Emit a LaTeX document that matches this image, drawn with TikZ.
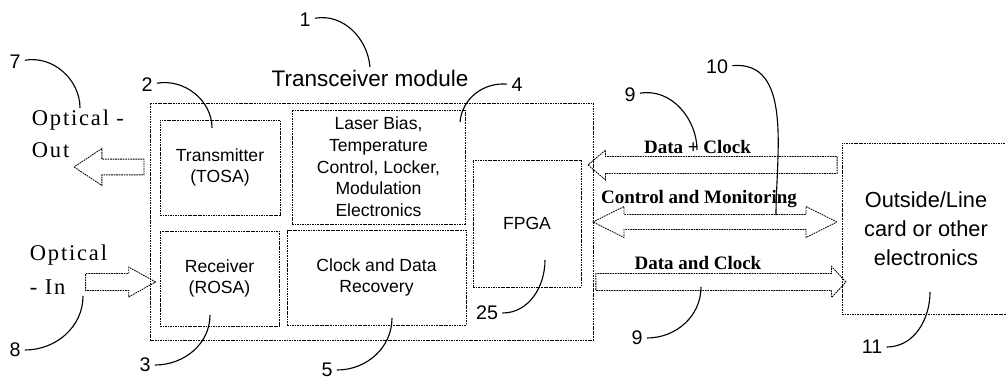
\documentclass[tikz,border=0pt]{standalone}
\usepackage{fontspec}
\setmainfont{Liberation Serif}
\setsansfont{Liberation Sans}
\newfontfamily\widerm[LetterSpace=8]{Liberation Serif}
\usetikzlibrary{shapes.arrows}

\tikzset{
  dots/.style={dash pattern=on 1.2pt off 0.6pt, line width=0.6pt},
  unit/.style={draw, dots, inner sep=0pt, align=center,
    font=\sffamily\fontsize{12.5}{15.4}\selectfont},
  num/.style={font=\sffamily\fontsize{14}{16}\selectfont, inner sep=3pt},
  lead/.style={line width=0.8pt},
  bus/.style={font=\bfseries\fontsize{13.5}{15}\selectfont},
  fat/.style={single arrow, draw, dots, inner xsep=0pt, minimum width=0pt},
  fat2/.style={double arrow, draw, dots, inner xsep=0pt, minimum width=0pt},
}

\begin{document}
\begin{tikzpicture}[x=0.025cm, y=-0.025cm]
    \useasboundingbox (0,0) rectangle (1006,381);
    % transceiver module
    \node[unit, minimum width=11.075cm, minimum height=5.925cm] (mod) at (371.5,221.5) {};
    \node[font=\sffamily\fontsize{16}{18}\selectfont] (tit) at (370,78) {Transceiver module};
    \node[unit, minimum width=3cm,     minimum height=2.375cm] (tosa) at (220,167.5)   {Transmitter\\(TOSA)};
    \node[unit, minimum width=4.325cm, minimum height=2.85cm]  (bias) at (378.5,167)   {Laser Bias,\\Temperature\\Control, Locker,\\Modulation\\Electronics};
    \node[unit, minimum width=2.975cm, minimum height=2.375cm] (rosa) at (219.5,278.5) {Receiver\\(ROSA)};
    \node[unit, minimum width=4.475cm, minimum height=2.375cm] (cdr)  at (376.5,277.5) {Clock and Data\\Recovery};
    \node[unit, minimum width=2.7cm,   minimum height=3.175cm] (fpga) at (527,223.5)   {FPGA};
    \node[unit, minimum width=4.2cm,   minimum height=4.275cm,
          font=\sffamily\fontsize{15.5}{20.5}\selectfont]      (line) at (926,228.5)   {Outside/Line\\card or other\\electronics};

    % optical side
    \node[fat, minimum height=1.75cm, inner ysep=5.3pt, single arrow head extend=7.5pt,
          single arrow tip angle=67, shape border rotate=180] (oa) at (115,167) {};
    \node[fat, minimum height=1.75cm, inner ysep=5.7pt, single arrow head extend=4.6pt,
          single arrow tip angle=58] (ia) at (113,282) {};
    \node[font=\widerm\fontsize{16}{22.7}\selectfont, align=left, anchor=west] (oout) at (27,134) {Optical -\\Out};
    \node[font=\widerm\fontsize{16}{24}\selectfont,   align=left, anchor=west] (oin)  at (25,270) {Optical\\- In};

    % electrical side
    \node[fat, minimum height=6.225cm, inner ysep=5.7pt, single arrow head extend=4.6pt,
          single arrow tip angle=81, shape border rotate=180] (dca) at (717.5,165) {};
    \node[fat2, minimum height=6.1cm, inner ysep=5pt, double arrow head extend=5.7pt,
          double arrow tip angle=53] (cma) at (715,222) {};
    \node[fat, minimum height=6.25cm, inner ysep=5.7pt, single arrow head extend=5pt,
          single arrow tip angle=94] (dcb) at (717,282) {};
    \node[bus] (dcl) at ([shift={(-20,-18)}] dca) {Data + Clock};
    \node[bus] (cml) at ([shift={(-16,-23)}] cma) {Control and Monitoring};
    \node[bus] (dbl) at ([shift={(-19,-19)}] dcb) {Data and Clock};

    % reference numerals
    \node[num] (n1)  at (305,20)  {1};
    \node[num] (n2)  at (147,85)  {2};
    \node[num] (n7)  at (15,62)   {7};
    \node[num] (n4)  at (517,85)  {4};
    \node[num] (n9a) at (630,95)  {9};
    \node[num] (n10) at (717,67)  {10};
    \node[num] (n9b) at (637,338) {9};
    \node[num] (n11) at (872,347) {11};
    \node[num] (n8)  at (15,350)  {8};
    \node[num] (n3)  at (145,365) {3};
    \node[num] (n5)  at (327,370) {5};
    \node[num] (n25) at (487,313) {25};

    \coordinate (c1)  at (370,67);
    \coordinate (c2)  at (212,128);
    \coordinate (c7)  at (80,108);
    \coordinate (c4)  at (460,122);
    \coordinate (c9a) at (697,150);
    \coordinate (c10) at (776,215);
    \coordinate (c9b) at (701,287);
    \coordinate (c11) at (930,292);
    \coordinate (c8)  at (83,296);
    \coordinate (c3)  at (210,315);
    \coordinate (c5)  at (392,318);
    \coordinate (c25) at (545,260);

    \draw[lead] (n1)  to[out=10,in=95]   (c1);
    \draw[lead] (n2)  to[out=10,in=90]   (c2);
    \draw[lead] (n7)  to[out=10,in=90]   (c7);
    \draw[lead] (n4)  to[out=175,in=85]  (c4);
    \draw[lead] (n9a) to[out=10,in=90]   (c9a);
    \draw[lead] (n10) to[out=5,in=90]    (c10);
    \draw[lead] (n9b) to[out=0,in=270]   (c9b);
    \draw[lead] (n11) to[out=0,in=270]   (c11);
    \draw[lead] (n8)  to[out=0,in=270]   (c8);
    \draw[lead] (n3)  to[out=0,in=270]   (c3);
    \draw[lead] (n5)  to[out=0,in=270]   (c5);
    \draw[lead] (n25) to[out=0,in=270]   (c25);
  \end{tikzpicture}
\end{document}
